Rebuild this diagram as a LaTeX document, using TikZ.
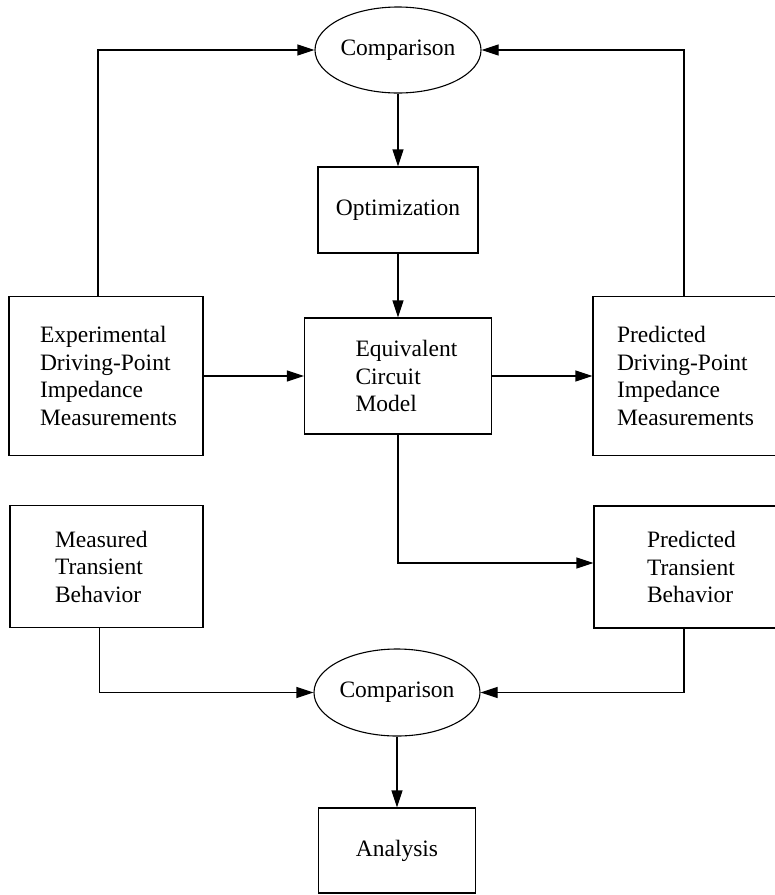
\documentclass[tikz,border=0pt]{standalone}
\usepackage{fontspec}
\setmainfont{Liberation Serif}
\usetikzlibrary{shapes.geometric,arrows.meta}
\hyphenpenalty=10000
\exhyphenpenalty=10000
\begin{document}
\begin{tikzpicture}[x=1pt,y=-1pt,line width=1.1pt,
    font=\fontsize{23.5}{27.5}\selectfont,
    blk/.style n args={3}{draw,minimum height=#1,text width=#2,inner xsep=#3,inner ysep=0pt,align=left},
    cbox/.style 2 args={draw,minimum width=#1,minimum height=#2,inner sep=0pt},
    oval/.style={draw,ellipse,minimum width=166pt,minimum height=86pt,inner sep=0pt},
    arr/.style={-{Triangle[length=17pt,width=11pt]}}]
	\useasboundingbox (0,0) rectangle (775,895);
	\clip (0,0) rectangle (775,895);
	\node[oval] (cmpA) at (398,50) {Comparison};
	\node[cbox={160pt}{86pt}] (opt) at (398,210) {Optimization};
	\node[blk={116pt}{85pt}{51pt}] (eqv) at (398,376) {Equivalent\\Circuit\\Model};
	\node[blk={159pt}{132pt}{31pt}] (exp) at (106,376) {Experimental\\Driving-Point\\Impedance\\Measurements};
	\node[blk={159pt}{146pt}{24pt}] (pdp) at (690,376) {Predicted\\Driving-Point\\Impedance\\Measurements};
	\node[blk={122pt}{103pt}{45pt}] (mtb) at (106.5,566.5) {Measured\\Transient\\Behavior};
	\node[blk={122pt}{88pt}{53pt}] (ptb) at (691,567) {Predicted\\Transient\\Behavior};
	\node[oval,minimum height=87pt] (cmpB) at (397,692.5) {Comparison};
	\node[cbox={157pt}{85pt}] (ana) at (397,850.5) {Analysis};
	\draw[arr] ([xshift=-8pt]exp.north) |- (cmpA.west);
	\draw[arr] ([xshift=-6pt]pdp.north) |- (cmpA.east);
	\draw[arr] (cmpA.south) -- (opt.north);
	\draw[arr] (opt.south) -- (eqv.north);
	\draw[arr] (exp.east) -- (eqv.west);
	\draw[arr] (eqv.east) -- (pdp.west);
	\draw[arr] (eqv.south) |- ([yshift=4pt]ptb.west);
	\draw[arr] ([xshift=-7pt]mtb.south) |- (cmpB.west);
	\draw[arr] ([xshift=-7pt]ptb.south) |- (cmpB.east);
	\draw[arr] (cmpB.south) -- (ana.north);
\end{tikzpicture}
\end{document}
